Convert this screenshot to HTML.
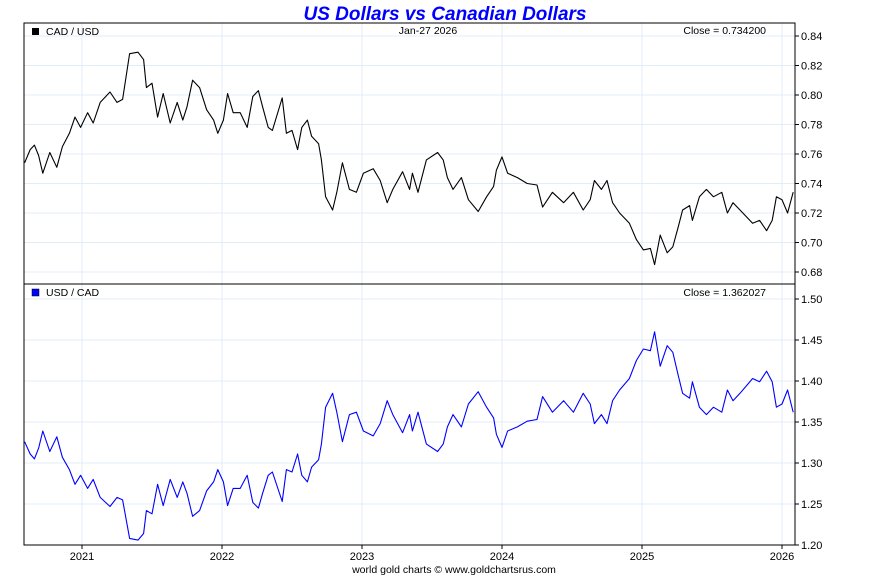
<!DOCTYPE html>
<html><head><meta charset="utf-8"><style>
html,body{margin:0;padding:0;background:#fff;}
svg{display:block;font-family:"Liberation Sans",Arial,sans-serif;}
</style></head><body>
<svg id="chart" width="890" height="575" viewBox="0 0 890 575" xmlns="http://www.w3.org/2000/svg">
<text x="445" y="20" text-anchor="middle" font-size="19" font-weight="bold" font-style="italic" fill="#0000ff">US Dollars vs Canadian Dollars</text>
<g id="grid"></g>
<g id="series"></g>
<rect x="24" y="23" width="771" height="261" fill="none" stroke="#000" stroke-width="1"/>
<rect x="24" y="284" width="771" height="261" fill="none" stroke="#000" stroke-width="1"/>
<g id="axes" font-size="11"></g>
<rect x="32" y="28" width="7" height="7" fill="#000"/>
<text x="46" y="35" font-size="10.5">CAD / USD</text>
<text x="428" y="34" text-anchor="middle" font-size="10.5">Jan-27  2026</text>
<text x="766" y="34" text-anchor="end" font-size="10.5">Close = 0.734200</text>
<rect x="32" y="289" width="7" height="7" fill="#0000ff" stroke="#000" stroke-width="0.5"/>
<text x="46" y="296" font-size="10.5">USD / CAD</text>
<text x="766" y="296" text-anchor="end" font-size="10.5">Close = 1.362027</text>
<text x="454" y="573" text-anchor="middle" font-size="10.5">world gold charts © www.goldchartsrus.com</text>
</svg>
<script>
const dates=[2020.59,2020.63,2020.66,2020.69,2020.72,2020.77,2020.82,2020.86,2020.91,2020.95,2020.99,2021.04,2021.08,2021.13,2021.20,2021.25,2021.29,2021.34,2021.40,2021.44,2021.46,2021.50,2021.54,2021.58,2021.63,2021.68,2021.72,2021.75,2021.79,2021.84,2021.89,2021.94,2021.97,2022.01,2022.04,2022.08,2022.13,2022.18,2022.22,2022.26,2022.29,2022.33,2022.36,2022.43,2022.46,2022.50,2022.54,2022.57,2022.61,2022.64,2022.69,2022.71,2022.74,2022.79,2022.82,2022.86,2022.91,2022.96,2023.01,2023.08,2023.13,2023.18,2023.22,2023.29,2023.34,2023.36,2023.40,2023.46,2023.54,2023.58,2023.61,2023.65,2023.71,2023.76,2023.83,2023.89,2023.94,2023.96,2024.00,2024.04,2024.11,2024.18,2024.25,2024.29,2024.36,2024.44,2024.51,2024.58,2024.63,2024.66,2024.71,2024.75,2024.79,2024.84,2024.91,2024.96,2025.01,2025.06,2025.09,2025.13,2025.18,2025.22,2025.26,2025.29,2025.34,2025.36,2025.41,2025.46,2025.51,2025.57,2025.61,2025.65,2025.70,2025.75,2025.79,2025.84,2025.89,2025.93,2025.96,2026.00,2026.04,2026.08];
const cadusd=[0.754,0.763,0.766,0.759,0.747,0.761,0.751,0.765,0.774,0.785,0.778,0.788,0.781,0.795,0.802,0.795,0.797,0.828,0.829,0.824,0.805,0.808,0.785,0.801,0.781,0.795,0.783,0.792,0.810,0.805,0.790,0.783,0.774,0.783,0.801,0.788,0.788,0.778,0.799,0.803,0.792,0.778,0.776,0.798,0.774,0.776,0.763,0.778,0.783,0.772,0.767,0.756,0.731,0.722,0.734,0.754,0.736,0.734,0.747,0.750,0.742,0.727,0.736,0.748,0.736,0.747,0.734,0.756,0.761,0.756,0.744,0.736,0.744,0.729,0.721,0.731,0.738,0.749,0.758,0.747,0.744,0.740,0.739,0.724,0.734,0.727,0.734,0.722,0.729,0.742,0.736,0.742,0.727,0.720,0.713,0.702,0.695,0.696,0.685,0.705,0.693,0.697,0.711,0.722,0.725,0.715,0.731,0.736,0.731,0.734,0.720,0.727,0.722,0.717,0.713,0.715,0.708,0.715,0.731,0.729,0.720,0.7342];
const usdcad=[1.326,1.311,1.305,1.318,1.339,1.314,1.332,1.307,1.292,1.274,1.285,1.269,1.280,1.258,1.247,1.258,1.255,1.208,1.206,1.214,1.242,1.238,1.274,1.248,1.280,1.258,1.277,1.263,1.235,1.242,1.266,1.277,1.292,1.277,1.248,1.269,1.269,1.285,1.252,1.245,1.263,1.285,1.289,1.253,1.292,1.289,1.311,1.285,1.277,1.295,1.304,1.323,1.368,1.385,1.362,1.326,1.359,1.362,1.339,1.333,1.348,1.376,1.359,1.337,1.359,1.339,1.362,1.323,1.314,1.323,1.344,1.359,1.344,1.372,1.387,1.368,1.355,1.335,1.319,1.339,1.344,1.351,1.353,1.381,1.362,1.376,1.362,1.385,1.372,1.348,1.359,1.348,1.376,1.389,1.403,1.425,1.439,1.437,1.460,1.418,1.443,1.435,1.406,1.385,1.379,1.399,1.368,1.359,1.368,1.362,1.389,1.376,1.385,1.395,1.403,1.399,1.412,1.399,1.368,1.372,1.389,1.362];
const yearTicks=[2021,2022,2023,2024,2025,2026];
const topTicks=[0.84,0.82,0.80,0.78,0.76,0.74,0.72,0.70,0.68];
const botTicks=[1.50,1.45,1.40,1.35,1.30,1.25,1.20];

const NS="http://www.w3.org/2000/svg";
const xs=y=>82+(y-2021)*140;
const yTop=v=>36+(0.84-v)/0.02*29.5;
const yBot=v=>299+(1.50-v)/0.05*41;
const grid=document.getElementById('grid'),axes=document.getElementById('axes'),ser=document.getElementById('series');
function mk(tag,attrs,parent){const e=document.createElementNS(NS,tag);for(const k in attrs)e.setAttribute(k,attrs[k]);parent.appendChild(e);return e;}
yearTicks.forEach(yr=>{
  const x=xs(yr);
  const g=mk('line',{x1:x,x2:x,y1:23,y2:545,stroke:'#e2edf8','stroke-width':1},grid);
  
  
  const t=mk('line',{x1:x,x2:x,y1:545,y2:549,stroke:'#000'},axes);
  
  
  const l=mk('text',{x:x,y:560,'text-anchor':'middle'},axes);l.textContent=yr;
  
  
});
function yAxis(ticks,fy,dec){
  ticks.forEach(v=>{
    const y=fy(v);
    const g=mk('line',{x1:24,x2:795,y1:y,y2:y,stroke:'#e2edf8','stroke-width':1},grid);
    
    
    const t=mk('line',{x1:795,x2:799,y1:y,y2:y,stroke:'#000'},axes);
    
    
    const l=mk('text',{x:801,y:y+4},axes);l.textContent=v.toFixed(dec);
    
    
  });
}
yAxis(topTicks,yTop,2);yAxis(botTicks,yBot,2);
function line(vals,fy,color,name){
  const d=vals.map((v,i)=>(i?'L':'M')+xs(dates[i]).toFixed(1)+','+fy(v).toFixed(1)).join(' ');
  const p=mk('path',{d:d,fill:'none',stroke:color,'stroke-width':1.1,'stroke-linejoin':'round'},ser);
  
  
}
line(cadusd,yTop,'#000','cadusd-line');
line(usdcad,yBot,'#0000ff','usdcad-line');
</script>
</body></html>
